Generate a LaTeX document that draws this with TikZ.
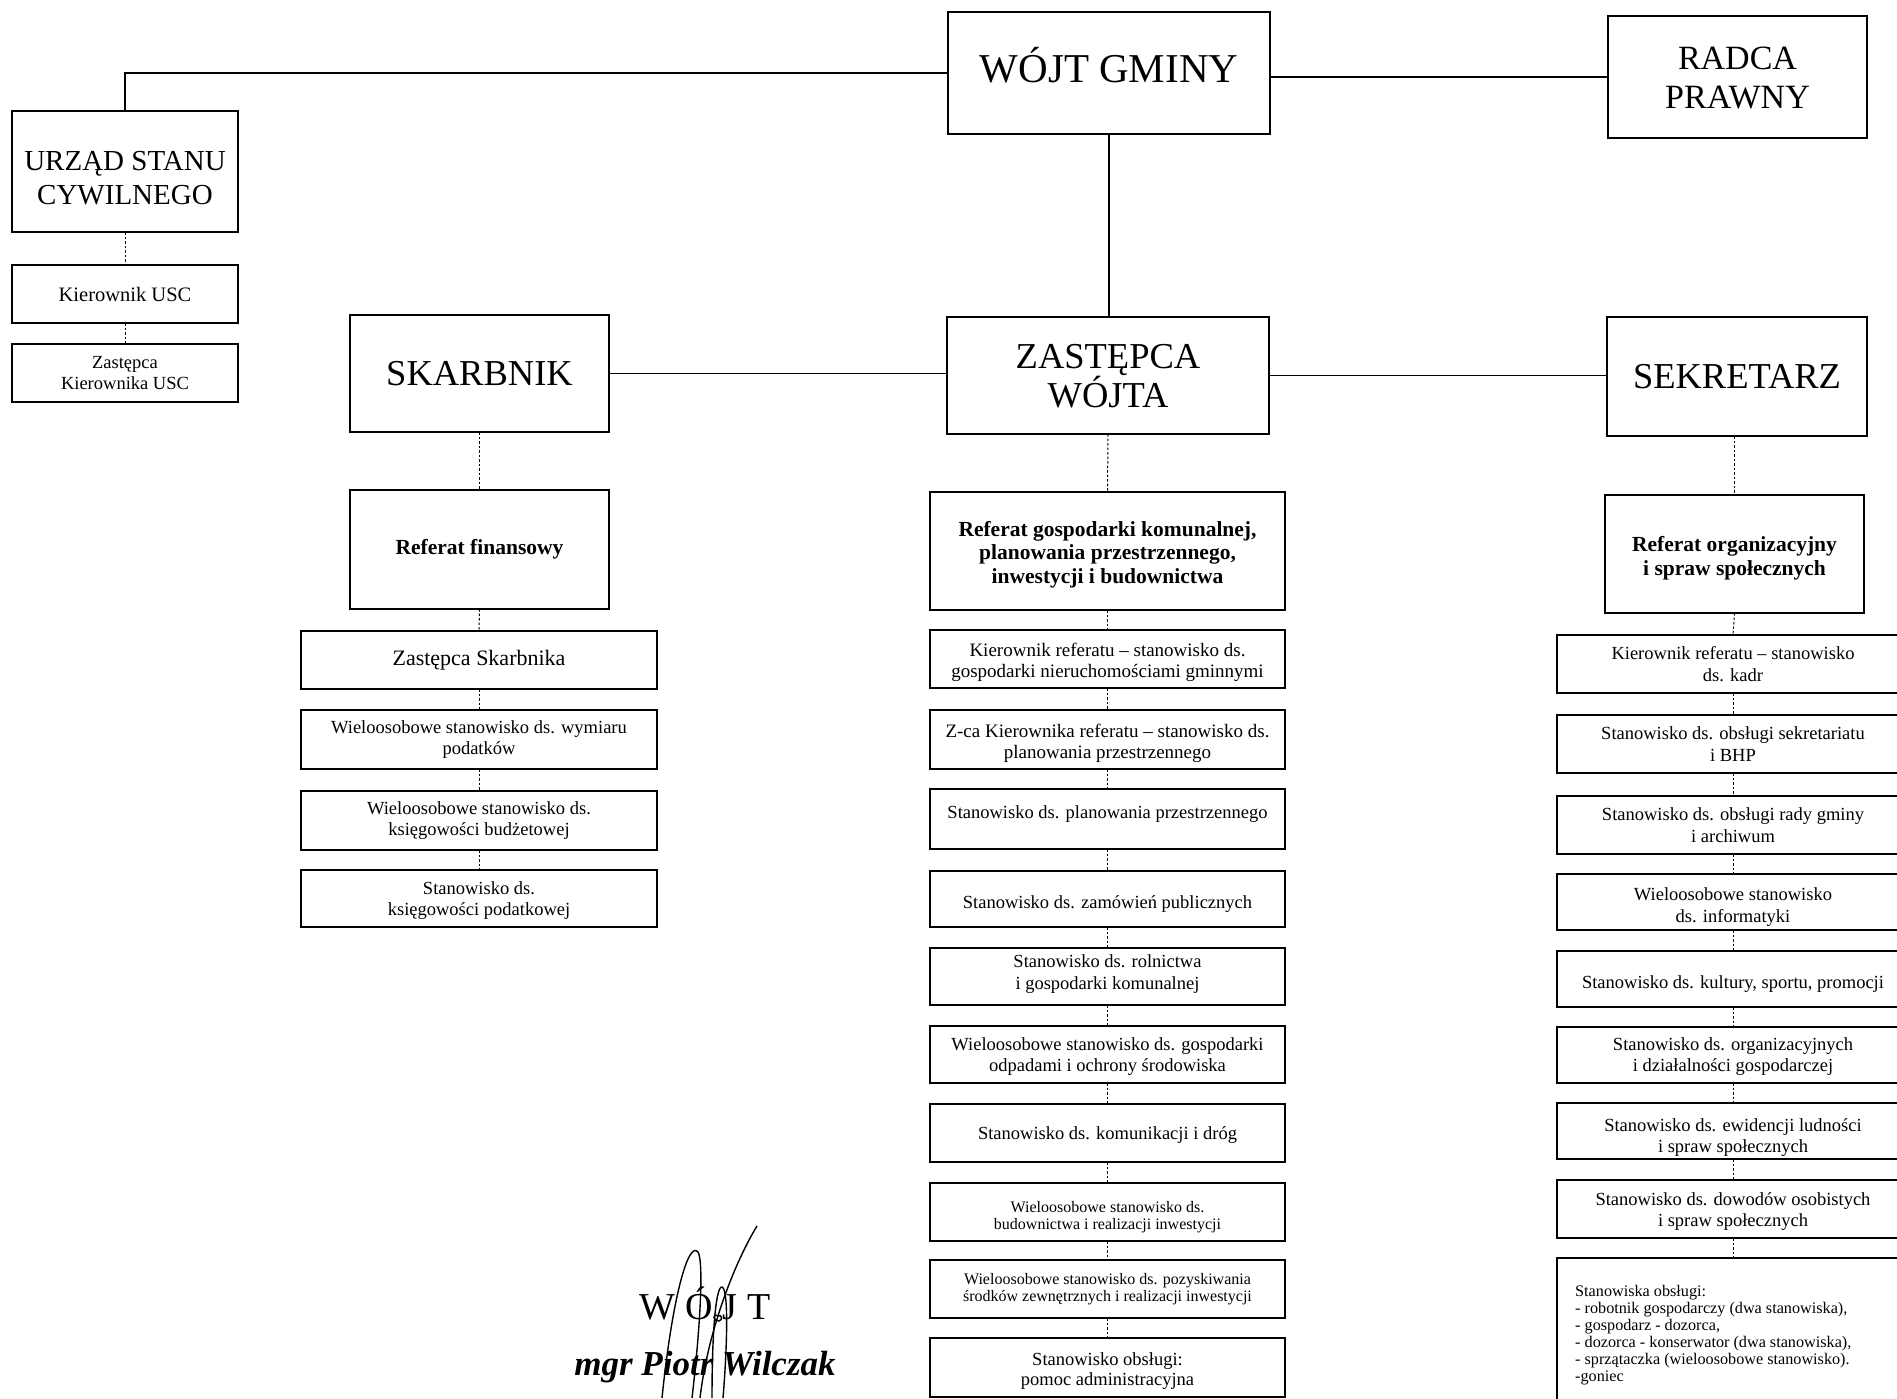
\documentclass[tikz,border=0pt]{standalone}
\usepackage{fontspec}
\setmainfont{Liberation Serif}
\newcommand\setfs[2]{\fontsize{#1}{#2}\selectfont}
\tikzset{
 box/.style={draw, line width=1.4pt, inner sep=2pt, outer sep=0pt, align=center, font=\setfs{18.5}{21.5}},
 head/.style={box, font=\setfs{36.5}{33}},
 refhead/.style={box, font=\bfseries\setfs{21.5}{22.5}},
 smallbox/.style={box, font=\setfs{16}{17.5}},
 th/.style={text height=#1, text depth=0pt},
 dotline/.style={line width=1pt, dash pattern=on 2.5pt off 2pt},
 conn/.style={line width=1.3pt},
 sig/.style={line width=1.4pt},
}
\begin{document}
\begin{tikzpicture}[x=1pt,y=-1pt]
\useasboundingbox (0,0) rectangle (1897,1398);
\fill[white] (0,0) rectangle (1897,1398);
\clip (0,0) rectangle (1897,1398);

% top level
\node[box, minimum width=322pt, minimum height=122pt, font=\setfs{41}{44}, th=18pt] (wojt) at (1109,73) {WÓJT GMINY};
\node[box, minimum width=259pt, minimum height=122pt, font=\setfs{34}{39}, th=62.3pt] (radca) at (1737.5,77) {RADCA\\PRAWNY};
\node[box, minimum width=226pt, minimum height=121pt, font=\setfs{29}{34}, th=66.2pt] (usc) at (125,171.5) {URZĄD STANU\\CYWILNEGO};
\node[box, minimum width=226pt, minimum height=58pt, font=\setfs{20.5}{23}] (kusc) at (125,294) {Kierownik USC};
\node[box, minimum width=226pt, minimum height=58pt, font=\setfs{18.5}{20.5}] (zkusc) at (125,373) {Zastępca\\Kierownika USC};

\node[head, minimum width=259pt, minimum height=117pt] (skarb) at (479.5,373.5) {SKARBNIK};
\node[head, minimum width=322pt, minimum height=117pt, th=64.8pt] (zast) at (1108,375.5) {ZASTĘPCA\\WÓJTA};
\node[head, minimum width=260pt, minimum height=119pt] (sekr) at (1737,376.5) {SEKRETARZ};

% left column
\node[refhead, minimum width=259pt, minimum height=119pt] (reffin) at (479.5,549.5) {Referat finansowy};
\node[box, minimum width=356pt, minimum height=58pt, font=\setfs{22}{24}] (ls1) at (479,660) {Zastępca Skarbnika};
\node[box, minimum width=356pt, minimum height=59pt] (ls2) at (479,739.5) {Wieloosobowe stanowisko ds. wymiaru\\podatków};
\node[box, minimum width=356pt, minimum height=59pt] (ls3) at (479,820.5) {Wieloosobowe stanowisko ds.\\księgowości budżetowej};
\node[box, minimum width=356pt, minimum height=57pt, th=34.7pt] (ls4) at (479,898.5) {Stanowisko ds.\\księgowości podatkowej};

% middle column
\node[refhead, minimum width=355pt, minimum height=118pt, font=\bfseries\setfs{21.5}{23.5}, th=64pt] (mg0) at (1107.5,551) {Referat gospodarki komunalnej,\\planowania przestrzennego,\\inwestycji i budownictwa};
\node[box, minimum width=355pt, minimum height=58pt, font=\setfs{19}{21.5}, th=37.5pt] (mg1) at (1107.5,659) {Kierownik referatu -- stanowisko ds.\\gospodarki nieruchomościami gminnymi};
\node[box, minimum width=355pt, minimum height=59pt, font=\setfs{19}{21}, th=38.2pt] (mg2) at (1107.5,739.5) {Z-ca Kierownika referatu -- stanowisko ds.\\planowania przestrzennego};
\node[box, minimum width=355pt, minimum height=60pt, text height=13pt, text depth=14pt] (mg3) at (1107.5,819) {Stanowisko ds. planowania przestrzennego};
\node[box, minimum width=355pt, minimum height=56pt, th=18pt] (mg4) at (1107.5,899) {Stanowisko ds. zamówień publicznych};
\node[box, minimum width=355pt, minimum height=57pt, th=25.1pt] (mg5) at (1107.5,976.5) {Stanowisko ds. rolnictwa\\i gospodarki komunalnej};
\node[box, minimum width=355pt, minimum height=57pt, th=34.7pt] (mg6) at (1107.5,1054.5) {Wieloosobowe stanowisko ds. gospodarki\\odpadami i ochrony środowiska};
\node[box, minimum width=355pt, minimum height=58pt, th=13.2pt] (mg7) at (1107.5,1133) {Stanowisko ds. komunikacji i dróg};
\node[smallbox, minimum width=355pt, minimum height=58pt, font=\setfs{16}{17}, th=34pt] (mg8) at (1107.5,1212) {Wieloosobowe stanowisko ds.\\budownictwa i realizacji inwestycji};
\node[smallbox, minimum width=355pt, minimum height=58pt] (mg9) at (1107.5,1289) {Wieloosobowe stanowisko ds. pozyskiwania\\środków zewnętrznych i realizacji inwestycji};
\node[box, minimum width=355pt, minimum height=59pt, font=\setfs{18.5}{20}, th=35.6pt] (mg10) at (1107.5,1367.5) {Stanowisko obsługi:\\pomoc administracyjna};

% right column
\node[refhead, minimum width=259pt, minimum height=118pt, font=\bfseries\setfs{21.5}{24}, th=42.2pt] (rg0) at (1734.5,554) {Referat organizacyjny\\i spraw społecznych};
\node[box, minimum width=352pt, minimum height=58pt] (rg1) at (1733,664) {Kierownik referatu -- stanowisko\\ds. kadr};
\node[box, minimum width=352pt, minimum height=58pt] (rg2) at (1733,744) {Stanowisko ds. obsługi sekretariatu\\i BHP};
\node[box, minimum width=352pt, minimum height=58pt] (rg3) at (1733,825) {Stanowisko ds. obsługi rady gminy\\i archiwum};
\node[box, minimum width=352pt, minimum height=56pt, th=40.7pt] (rg4) at (1733,902) {Wieloosobowe stanowisko\\ds. informatyki};
\node[box, minimum width=352pt, minimum height=56pt, th=18pt] (rg5) at (1733,979) {Stanowisko ds. kultury, sportu, promocji};
\node[box, minimum width=352pt, minimum height=56pt, th=33.5pt] (rg6) at (1733,1055) {Stanowisko ds. organizacyjnych\\i działalności gospodarczej};
\node[box, minimum width=352pt, minimum height=56pt, th=43.3pt] (rg7) at (1733,1131) {Stanowisko ds. ewidencji ludności\\i spraw społecznych};
\node[box, minimum width=352pt, minimum height=58pt, th=35.9pt] (rg8) at (1733,1209) {Stanowisko ds. dowodów osobistych\\i spraw społecznych};
\node[box, minimum width=352pt, minimum height=182pt] (rg9) at (1733,1349) {};
\node[anchor=north west, inner sep=0pt, align=left, font=\setfs{16.2}{17}] (rg9txt) at (1575,1285) {Stanowiska obsługi:\\- robotnik gospodarczy (dwa stanowiska),\\- gospodarz - dozorca,\\- dozorca - konserwator (dwa stanowiska),\\- sprzątaczka (wieloosobowe stanowisko).\\-goniec};

% solid connectors
\draw[conn] (wojt.west) -| (usc.north);
\draw[conn] (radca.west -| wojt.east) -- (radca.west);
\draw[conn] (wojt.south) -- (wojt.south |- zast.north);
\draw[conn] (skarb.east) -- (skarb.east -| zast.west);
\draw[conn] (zast.east) -- (zast.east -| sekr.west);

% dotted connectors
\draw[dotline] (usc.south) -- (kusc.north);
\draw[dotline] (kusc.south) -- (zkusc.north);
\draw[dotline] (skarb.south) -- (reffin.north);
\draw[dotline] (reffin.south) -- (ls1.north);
\draw[dotline] (ls1.south) -- (ls2.north);
\draw[dotline] (ls2.south) -- (ls3.north);
\draw[dotline] (ls3.south) -- (ls4.north);
\draw[dotline] (zast.south) -- (mg0.north);
\foreach \a/\b in {mg0/mg1,mg1/mg2,mg2/mg3,mg3/mg4,mg4/mg5,mg5/mg6,mg6/mg7,mg7/mg8,mg8/mg9,mg9/mg10}
  \draw[dotline] (\a.south) -- (\b.north);
\draw[dotline] (rg0.north |- sekr.south) -- (rg0.north);
\foreach \a/\b in {rg0/rg1,rg1/rg2,rg2/rg3,rg3/rg4,rg4/rg5,rg5/rg6,rg6/rg7,rg7/rg8,rg8/rg9}
  \draw[dotline] (\a.south) -- (\b.north);

% signature stamp
\node[font=\setfs{38}{40}, text height=25pt, text depth=0pt, inner sep=0pt] (stamp) at (705,1307) {W\kern10pt Ó\kern10pt J\kern10pt T};
\node[font=\bfseries\itshape\setfs{35}{38}, inner sep=0pt] (signame) at (705,1367) {mgr Piotr Wilczak};
\draw[sig] (662,1398) .. controls (672,1300) and (688,1240) .. (698,1252) .. controls (704,1262) and (700,1330) .. (692,1398);
\draw[sig] (712,1398) .. controls (712,1330) and (716,1286) .. (722,1287) .. controls (729,1289) and (727,1350) .. (723,1398);
\draw[sig] (718,1316) .. controls (712,1312) and (713,1322) .. (719,1321) .. controls (723,1320) and (722,1314) .. (718,1316);
\draw[sig] (700,1398) .. controls (708,1330) and (735,1262) .. (757,1226);
\end{tikzpicture}
\end{document}
